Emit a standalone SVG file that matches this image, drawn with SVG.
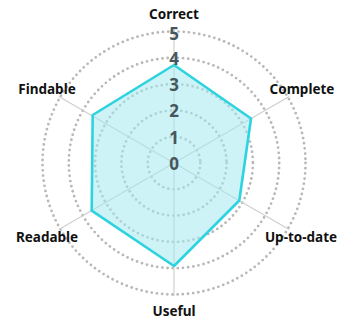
<svg xmlns="http://www.w3.org/2000/svg" width="342" height="323" viewBox="0 0 342 323">
  <style>
    .ring { fill: none; stroke: #b8b8b8; stroke-width: 2.8; stroke-linecap: round; stroke-dasharray: 0 5.2; }
    .spoke { stroke: #cfcfcf; stroke-width: 1.2; }
    .area { fill: #a6eaf0; fill-opacity: 0.55; stroke: #2dd3df; stroke-width: 2.6; stroke-linejoin: round; }
    .axis-label { font-family: "Noto Sans", "Open Sans", sans-serif; font-weight: bold; font-size: 13.5px; fill: #111; text-anchor: middle; }
    .tick { font-family: "Noto Sans", "Open Sans", sans-serif; font-weight: bold; font-size: 17px; fill: #44575d; text-anchor: middle; dominant-baseline: central; }
  </style>
  <rect width="342" height="323" fill="#ffffff"/>

  <!-- concentric level rings 1..5 -->
  <g id="grid">
    <circle class="ring" cx="174" cy="163" r="26.3"/>
    <circle class="ring" cx="174" cy="163" r="52.6"/>
    <circle class="ring" cx="174" cy="163" r="78.9"/>
    <circle class="ring" cx="174" cy="163" r="105.2"/>
    <circle class="ring" cx="174" cy="163" r="131.5"/>
  </g>

  <!-- spokes from the centre to each category -->
  <g id="connectors">
    <line class="spoke" x1="174" y1="163" x2="174" y2="30"/>
    <line class="spoke" x1="174" y1="163" x2="289.2" y2="96.5"/>
    <line class="spoke" x1="174" y1="163" x2="289.2" y2="229.5"/>
    <line class="spoke" x1="174" y1="163" x2="174" y2="296"/>
    <line class="spoke" x1="174" y1="163" x2="58.8" y2="229.5"/>
    <line class="spoke" x1="174" y1="163" x2="58.8" y2="96.5"/>
  </g>

  <!-- score polygon -->
  <g id="scores">
    <polygon class="area" points="174,65 251,118.5 239.3,200.5 174,266 91.7,210.7 92.7,115"/>
  </g>

  <!-- scale values along the vertical spoke -->
  <g id="scale">
    <text class="tick" x="174" y="163">0</text>
    <text class="tick" x="174" y="137">1</text>
    <text class="tick" x="174" y="110.5">2</text>
    <text class="tick" x="174" y="84">3</text>
    <text class="tick" x="174" y="58">4</text>
    <text class="tick" x="174" y="33">5</text>
  </g>

  <g id="correct"><text class="axis-label" x="174" y="19">Correct</text></g>
  <g id="complete"><text class="axis-label" x="302" y="94">Complete</text></g>
  <g id="up-to-date"><text class="axis-label" x="301" y="242">Up-to-date</text></g>
  <g id="useful"><text class="axis-label" x="174" y="316">Useful</text></g>
  <g id="readable"><text class="axis-label" x="47" y="242">Readable</text></g>
  <g id="findable"><text class="axis-label" x="47" y="94">Findable</text></g>
</svg>
